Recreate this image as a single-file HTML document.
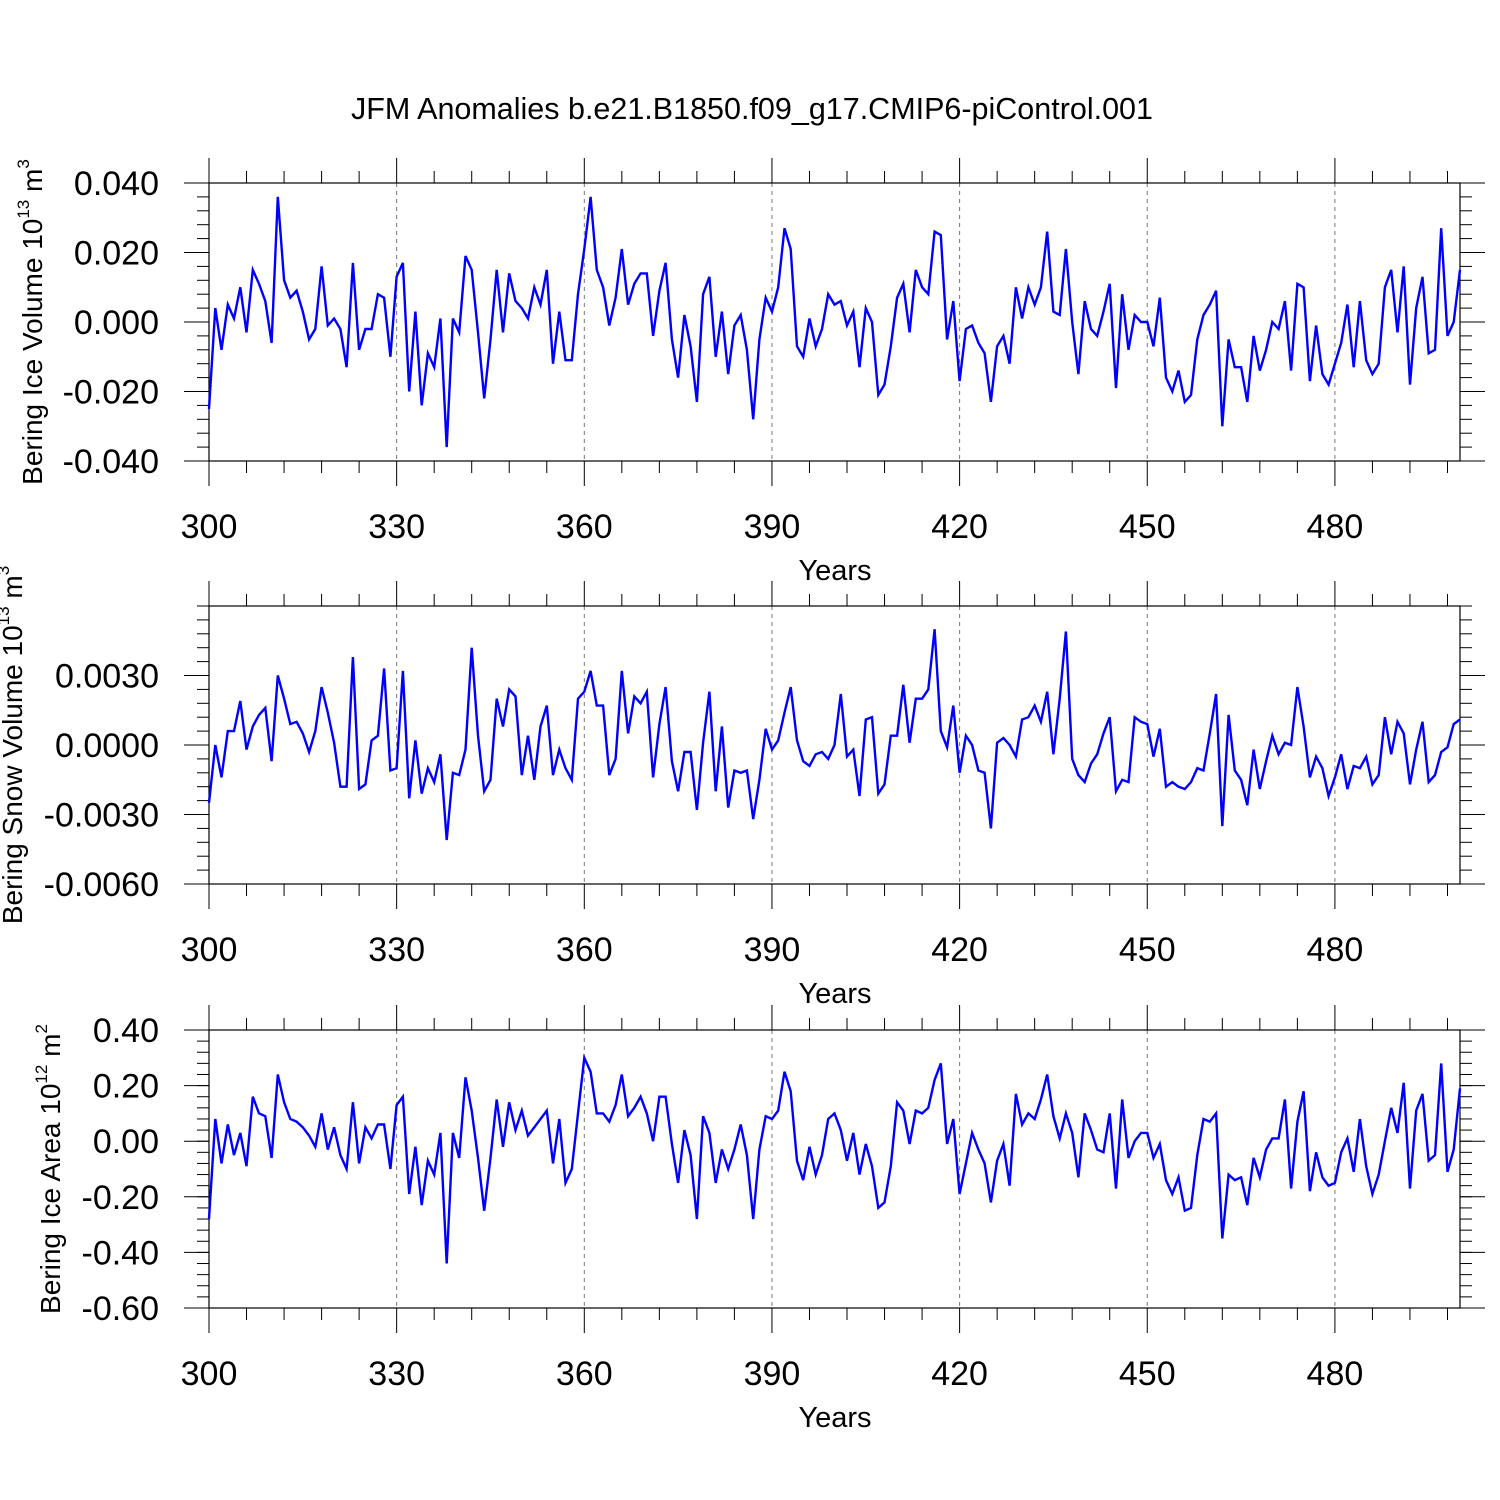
<!DOCTYPE html>
<html><head><meta charset="utf-8"><style>
html,body{margin:0;padding:0;background:#fff;}
svg{display:block;font-family:"Liberation Sans",sans-serif;}
</style></head><body>
<svg id="chart" width="1500" height="1500" viewBox="0 0 1500 1500">
<text x="752" y="119" font-size="30.5" text-anchor="middle">JFM Anomalies b.e21.B1850.f09_g17.CMIP6-piControl.001</text>
</svg>
<script>
const years = Array.from({length:201},(_,i)=>300+i);
const iceVolume = [-0.025,0.004,-0.008,0.005,0.001,0.010,-0.003,0.015,0.011,0.006,-0.006,0.036,0.012,0.007,0.009,0.003,-0.005,-0.002,0.016,-0.001,0.001,-0.002,-0.013,0.017,-0.008,-0.002,-0.002,0.008,0.007,-0.010,0.013,0.017,-0.020,0.003,-0.024,-0.009,-0.013,0.001,-0.036,0.001,-0.003,0.019,0.015,-0.003,-0.022,-0.005,0.015,-0.003,0.014,0.006,0.004,0.001,0.010,0.005,0.015,-0.012,0.003,-0.011,-0.011,0.008,0.021,0.036,0.015,0.010,-0.001,0.007,0.021,0.005,0.011,0.014,0.014,-0.004,0.009,0.017,-0.005,-0.016,0.002,-0.007,-0.023,0.008,0.013,-0.010,0.003,-0.015,-0.001,0.002,-0.008,-0.028,-0.005,0.007,0.003,0.010,0.027,0.021,-0.007,-0.010,0.001,-0.007,-0.002,0.008,0.005,0.006,-0.001,0.003,-0.013,0.004,0.000,-0.021,-0.018,-0.007,0.007,0.011,-0.003,0.015,0.010,0.008,0.026,0.025,-0.005,0.006,-0.017,-0.002,-0.001,-0.006,-0.009,-0.023,-0.007,-0.004,-0.012,0.010,0.001,0.010,0.005,0.010,0.026,0.003,0.002,0.021,0.000,-0.015,0.006,-0.002,-0.004,0.003,0.011,-0.019,0.008,-0.008,0.002,0.000,0.000,-0.007,0.007,-0.016,-0.020,-0.014,-0.023,-0.021,-0.005,0.002,0.005,0.009,-0.030,-0.005,-0.013,-0.013,-0.023,-0.004,-0.014,-0.008,0.000,-0.002,0.006,-0.014,0.011,0.010,-0.017,-0.001,-0.015,-0.018,-0.012,-0.006,0.005,-0.013,0.006,-0.011,-0.015,-0.012,0.010,0.015,-0.003,0.016,-0.018,0.004,0.013,-0.009,-0.008,0.027,-0.004,0.000,0.015];
const snowVolume = [-2.5,0.0,-1.4,0.6,0.6,1.9,-0.2,0.8,1.3,1.6,-0.7,3.0,2.0,0.9,1.0,0.5,-0.3,0.6,2.5,1.4,0.1,-1.8,-1.8,3.8,-1.9,-1.7,0.2,0.4,3.3,-1.1,-1.0,3.2,-2.3,0.2,-2.1,-1.0,-1.6,-0.4,-4.1,-1.2,-1.3,-0.2,4.2,0.4,-2.0,-1.5,2.0,0.8,2.4,2.1,-1.3,0.4,-1.5,0.8,1.7,-1.3,-0.2,-1.0,-1.5,2.0,2.3,3.2,1.7,1.7,-1.3,-0.6,3.2,0.5,2.1,1.8,2.3,-1.4,0.9,2.5,-0.7,-2.0,-0.3,-0.3,-2.8,0.1,2.3,-2.0,0.8,-2.7,-1.1,-1.2,-1.1,-3.2,-1.5,0.7,-0.2,0.2,1.4,2.5,0.2,-0.7,-0.9,-0.4,-0.3,-0.6,0.0,2.2,-0.5,-0.2,-2.2,1.1,1.2,-2.1,-1.7,0.4,0.4,2.6,0.1,2.0,2.0,2.4,5.0,0.6,-0.1,1.7,-1.2,0.4,0.0,-1.1,-1.2,-3.6,0.1,0.3,0.0,-0.5,1.1,1.2,1.7,1.0,2.3,-0.4,2.0,4.9,-0.6,-1.3,-1.6,-0.8,-0.4,0.5,1.2,-2.0,-1.5,-1.6,1.2,1.0,0.9,-0.5,0.7,-1.8,-1.6,-1.8,-1.9,-1.6,-1.0,-1.1,0.5,2.2,-3.5,1.3,-1.1,-1.5,-2.6,-0.2,-1.9,-0.7,0.4,-0.4,0.1,0.0,2.5,0.8,-1.4,-0.5,-1.0,-2.2,-1.4,-0.4,-1.9,-0.9,-1.0,-0.5,-1.7,-1.3,1.2,-0.4,1.0,0.5,-1.7,-0.2,1.0,-1.6,-1.3,-0.3,-0.1,0.9,1.1].map(v=>v/1000);
const iceArea = [-0.28,0.08,-0.08,0.06,-0.05,0.03,-0.09,0.16,0.10,0.09,-0.06,0.24,0.14,0.08,0.07,0.05,0.02,-0.02,0.10,-0.03,0.05,-0.05,-0.10,0.14,-0.08,0.05,0.01,0.06,0.06,-0.10,0.13,0.16,-0.19,-0.02,-0.23,-0.07,-0.12,0.03,-0.44,0.03,-0.06,0.23,0.11,-0.06,-0.25,-0.06,0.15,-0.02,0.14,0.04,0.11,0.02,0.05,0.08,0.11,-0.08,0.08,-0.15,-0.10,0.10,0.30,0.25,0.10,0.10,0.07,0.13,0.24,0.09,0.12,0.16,0.10,0.00,0.16,0.16,-0.01,-0.15,0.04,-0.05,-0.28,0.09,0.03,-0.15,-0.03,-0.10,-0.03,0.06,-0.05,-0.28,-0.03,0.09,0.08,0.11,0.25,0.18,-0.07,-0.14,-0.02,-0.12,-0.05,0.08,0.10,0.04,-0.07,0.03,-0.12,-0.01,-0.09,-0.24,-0.22,-0.09,0.14,0.11,-0.01,0.11,0.10,0.12,0.22,0.28,-0.01,0.08,-0.19,-0.08,0.03,-0.03,-0.08,-0.22,-0.07,-0.01,-0.16,0.17,0.06,0.10,0.08,0.15,0.24,0.09,0.01,0.10,0.03,-0.13,0.10,0.04,-0.03,-0.04,0.10,-0.17,0.15,-0.06,0.00,0.03,0.03,-0.06,-0.01,-0.14,-0.19,-0.13,-0.25,-0.24,-0.05,0.08,0.07,0.10,-0.35,-0.12,-0.14,-0.13,-0.23,-0.06,-0.13,-0.03,0.01,0.01,0.15,-0.17,0.07,0.18,-0.18,-0.04,-0.13,-0.16,-0.15,-0.04,0.01,-0.11,0.08,-0.09,-0.19,-0.12,0.00,0.12,0.03,0.21,-0.17,0.11,0.17,-0.07,-0.05,0.28,-0.11,-0.03,0.19];
const xTicks = [300,330,360,390,420,450,480];
const p1Ticks = [0.04,0.02,0,-0.02,-0.04];
const p1Labels = ["0.040","0.020","0.000","-0.020","-0.040"];
const p2Ticks = [0.003,0,-0.003,-0.006];
const p2Labels = ["0.0030","0.0000","-0.0030","-0.0060"];
const p3Ticks = [0.4,0.2,0,-0.2,-0.4,-0.6];
const p3Labels = ["0.40","0.20","0.00","-0.20","-0.40","-0.60"];

const NS="http://www.w3.org/2000/svg";
const svg=document.getElementById('chart');
const X0=209,X1=1460;
const xs=y=>X0+(y-300)/200*(X1-X0);
function mk(tag,attrs,parent){const e=document.createElementNS(NS,tag);for(const k in attrs)e.setAttribute(k,attrs[k]);(parent||svg).appendChild(e);return e;}

function panel(key,top,bot,ymin,ymax,data,ticks,labels,minorStep,titleMain,sup,titleX){
  const g=mk('g',{});
  
  
  const ys=v=>bot-(v-ymin)/(ymax-ymin)*(bot-top);
  xTicks.slice(1).forEach(t=>{
    const l=mk('line',{x1:xs(t),x2:xs(t),y1:top,y2:bot,stroke:'#777','stroke-width':1,'stroke-dasharray':'4,4'},g);
    
    
  });
  for(let t=300;t<=500;t+=6){
    if((t-300)%30===0)continue;
    mk('line',{x1:xs(t),x2:xs(t),y1:top,y2:top-12,stroke:'#000','stroke-width':1},g);
    mk('line',{x1:xs(t),x2:xs(t),y1:bot,y2:bot+12,stroke:'#000','stroke-width':1},g);
  }
  xTicks.forEach(t=>{
    mk('line',{x1:xs(t),x2:xs(t),y1:top,y2:top-25,stroke:'#000','stroke-width':1},g);
    mk('line',{x1:xs(t),x2:xs(t),y1:bot,y2:bot+25,stroke:'#000','stroke-width':1},g);
    const tx=mk('text',{x:xs(t),y:bot+77,'font-size':34,'text-anchor':'middle'},g);
    tx.textContent=t;
    
    
  });
  for(let v=ymin;v<=ymax+1e-9;v+=minorStep){
    mk('line',{x1:X0,x2:X0-12,y1:ys(v),y2:ys(v),stroke:'#000','stroke-width':1},g);
    mk('line',{x1:X1,x2:X1+12,y1:ys(v),y2:ys(v),stroke:'#000','stroke-width':1},g);
  }
  ticks.forEach((v,i)=>{
    mk('line',{x1:X0,x2:X0-25,y1:ys(v),y2:ys(v),stroke:'#000','stroke-width':1},g);
    mk('line',{x1:X1,x2:X1+25,y1:ys(v),y2:ys(v),stroke:'#000','stroke-width':1},g);
    const tx=mk('text',{x:159,y:ys(v)+12,'font-size':34,'text-anchor':'end'},g);
    tx.textContent=labels[i];
    
    
  });
  const fr=mk('rect',{x:X0,y:top,width:X1-X0,height:bot-top,fill:'none',stroke:'#000','stroke-width':1.2},g);
  
  
  const pts=data.map((v,i)=>xs(years[i]).toFixed(1)+','+ys(v).toFixed(1)).join(' ');
  const pl=mk('polyline',{points:pts,fill:'none',stroke:'#0000ff','stroke-width':2.4,'stroke-linejoin':'miter'},g);
  
  
  const xt=mk('text',{x:835,y:bot+119,'font-size':29,'text-anchor':'middle'},g);
  xt.textContent='Years';
  
  
  const cy=(top+bot)/2;
  const yt=mk('text',{x:0,y:0,'font-size':28,'text-anchor':'middle',transform:`translate(${titleX},${cy}) rotate(-90)`},g);
  
  
  yt.appendChild(document.createTextNode(titleMain.a));
  const s1=mk('tspan',{'font-size':17,dy:-13},yt);s1.textContent=sup;
  const s2=mk('tspan',{dy:13},yt);s2.textContent=titleMain.b;
  const s3=mk('tspan',{'font-size':17,dy:-13},yt);s3.textContent=titleMain.e;
}
panel('ice-volume',183,461,-0.04,0.04,iceVolume,p1Ticks,p1Labels,0.004,{a:'Bering Ice Volume 10',b:' m',e:'3'},'13',42);
panel('snow-volume',606,884,-0.006,0.006,snowVolume,p2Ticks,p2Labels,0.0006,{a:'Bering Snow Volume 10',b:' m',e:'3'},'13',22);
panel('ice-area',1030,1308,-0.6,0.4,iceArea,p3Ticks,p3Labels,0.04,{a:'Bering Ice Area 10',b:' m',e:'2'},'12',60);
</script>
</body></html>
